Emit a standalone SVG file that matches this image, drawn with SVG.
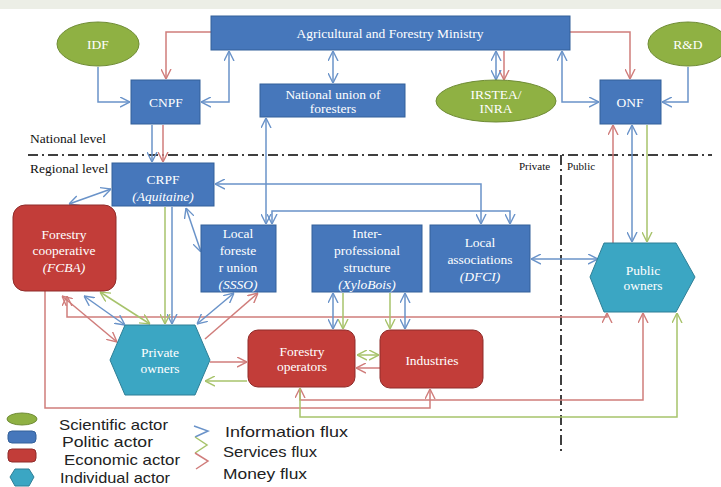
<svg xmlns="http://www.w3.org/2000/svg" width="721" height="487" viewBox="0 0 721 487">
<style>
.blue{fill:#4677bb;stroke:#33609a;stroke-width:1}
.red{fill:#c23d39;stroke:#8f2c2a;stroke-width:1}
.grn{fill:#8fb143;stroke:#6f8c35;stroke-width:1}
.teal{fill:#3ba6c3;stroke:#2f7f96;stroke-width:1}
.t{font-family:"Liberation Serif","DejaVu Serif",serif;font-size:13.5px;fill:#fff;text-anchor:middle}
.i{font-style:italic}
.lbl{font-family:"Liberation Serif","DejaVu Serif",serif;font-size:13.5px;fill:#111}
.sm{font-size:11px}
.leg{font-family:"Liberation Sans","DejaVu Sans",sans-serif;font-size:15px;fill:#222}
.fb{fill:none;stroke:#6a93c9;stroke-width:1.5}
.fg{fill:none;stroke:#a7c36b;stroke-width:1.5}
.fr{fill:none;stroke:#d07d7b;stroke-width:1.5}
.b1{marker-end:url(#mb)}
.b2{marker-start:url(#mb);marker-end:url(#mb)}
.g1{marker-end:url(#mg)}
.g2{marker-start:url(#mg);marker-end:url(#mg)}
.r1{marker-end:url(#mr)}
.r2{marker-start:url(#mr);marker-end:url(#mr)}
.dd{fill:none;stroke:#000;stroke-width:1.5;stroke-dasharray:10,4,2,4}
</style>
<defs>
<marker id="mb" viewBox="0 0 10 10" refX="10" refY="5" markerWidth="10" markerHeight="11" markerUnits="userSpaceOnUse" orient="auto-start-reverse"><path d="M0,0 L10,5 L0,10" fill="none" stroke="#6a93c9" stroke-width="1.4"/></marker>
<marker id="mg" viewBox="0 0 10 10" refX="10" refY="5" markerWidth="10" markerHeight="11" markerUnits="userSpaceOnUse" orient="auto-start-reverse"><path d="M0,0 L10,5 L0,10" fill="none" stroke="#a7c36b" stroke-width="1.4"/></marker>
<marker id="mr" viewBox="0 0 10 10" refX="10" refY="5" markerWidth="10" markerHeight="11" markerUnits="userSpaceOnUse" orient="auto-start-reverse"><path d="M0,0 L10,5 L0,10" fill="none" stroke="#d07d7b" stroke-width="1.4"/></marker>
</defs>
<rect x="0" y="0" width="721" height="487" fill="#fff"/>
<rect x="0" y="0" width="721" height="9" fill="#eceee6"/>

<g id="levels">
<path class="dd" d="M28,155 H712"/>
<path class="dd" d="M561,155 V455"/>
<text class="lbl" x="30" y="143">National level</text>
<text class="lbl" x="30" y="173">Regional level</text>
<text class="lbl sm" x="519" y="170">Private</text>
<text class="lbl sm" x="567" y="170">Public</text>
</g>

<g id="connectors">
<path class="fr r1" d="M211,32 H166 V79"/>
<path class="fr r1" d="M570,32 H630 V79"/>
<path class="fr r1" d="M504,51 V80"/>
<path class="fr r1" d="M163,125 V162"/>
<path class="fr r1" d="M613,243 V125"/>
<path class="fr r2" d="M67,296 V317 H607 V313"/>
<path class="fr r2" d="M62,296 L117,342"/>
<path class="fr r1" d="M45,291 V408 H430 V389"/>
<path class="fr r2" d="M643,313 V400 H300 V388"/>
<path class="fr r1" d="M205,339 L258,293"/>
<path class="fr r1" d="M210,362 H247"/>
<path class="fr r1" d="M380,368 H356"/>
<path class="fb b2" d="M201,102 H229 V51"/>
<path class="fb b1" d="M98,67 V102 H130"/>
<path class="fb b2" d="M333,51 V83"/>
<path class="fb b2" d="M496,51 V80"/>
<path class="fb b2" d="M599,102 H562 V51"/>
<path class="fb b1" d="M688,67 V102 H662"/>
<path class="fb b1" d="M152,125 V162"/>
<path class="fb b2" d="M266,118 V224"/>
<path class="fb b2" d="M215,184 H481 V224"/>
<path class="fb b2" d="M272,224 V211 H510 V224"/>
<path class="fb b2" d="M186,208 L201,252"/>
<path class="fb b2" d="M69,204 L111,189"/>
<path class="fb b1" d="M172,207 V324"/>
<path class="fb b2" d="M84,296 L125,325"/>
<path class="fb b2" d="M197,324 L234,293"/>
<path class="fb b2" d="M333,293 V329"/>
<path class="fb b2" d="M405,293 V329"/>
<path class="fb b2" d="M531,259 H598"/>
<path class="fb b2" d="M632,125 V242"/>
<path class="fg g1" d="M165,207 V324"/>
<path class="fg g2" d="M100,292 L150,324"/>
<path class="fg g1" d="M247,381 H205"/>
<path class="fg g2" d="M357,355 H379"/>
<path class="fg g1" d="M300,388 V417 H677 V313"/>
<path class="fg g1" d="M647,125 V242"/>
<path class="fg g1" d="M343,293 V329"/>
<path class="fg g1" d="M390,293 V329"/>
</g>

<g id="ministry"><rect class="blue" x="211" y="16" width="359" height="34"/><text class="t" x="390" y="38">Agricultural and Forestry Ministry</text></g>
<g id="idf"><ellipse class="grn" cx="98" cy="44" rx="41" ry="22"/><text class="t" x="98" y="49">IDF</text></g>
<g id="rd"><ellipse class="grn" cx="688" cy="44" rx="40" ry="22"/><text class="t" x="688" y="49">R&amp;D</text></g>
<g id="cnpf"><rect class="blue" x="131" y="80" width="69" height="44"/><text class="t" x="166" y="107">CNPF</text></g>
<g id="union"><rect class="blue" x="260" y="84" width="145" height="33"/><text class="t" x="333" y="99">National union of</text><text class="t" x="333" y="113">foresters</text></g>
<g id="irstea"><ellipse class="grn" cx="496" cy="101" rx="60" ry="21"/><text class="t" x="496" y="99">IRSTEA/</text><text class="t" x="496" y="113">INRA</text></g>
<g id="onf"><rect class="blue" x="600" y="80" width="61" height="44"/><text class="t" x="630" y="107">ONF</text></g>
<g id="crpf"><rect class="blue" x="112" y="163" width="102" height="43"/><text class="t" x="163" y="184">CRPF</text><text class="t i" x="163" y="201">(Aquitaine)</text></g>
<g id="coop"><rect class="red" x="13" y="205" width="103" height="86" rx="12"/><text class="t" x="64" y="239">Forestry</text><text class="t" x="64" y="255">cooperative</text><text class="t i" x="64" y="272">(FCBA)</text></g>
<g id="lfu"><rect class="blue" x="201" y="225" width="75" height="67"/><text class="t" x="238" y="238">Local</text><text class="t" x="238" y="255">foreste</text><text class="t" x="238" y="272">r union</text><text class="t i" x="238" y="289">(SSSO)</text></g>
<g id="inter"><rect class="blue" x="312" y="225" width="110" height="67"/><text class="t" x="367" y="238">Inter-</text><text class="t" x="367" y="255">professional</text><text class="t" x="367" y="272">structure</text><text class="t i" x="367" y="289">(XyloBois)</text></g>
<g id="assoc"><rect class="blue" x="430" y="225" width="100" height="67"/><text class="t" x="480" y="247">Local</text><text class="t" x="480" y="264">associations</text><text class="t i" x="480" y="281">(DFCI)</text></g>
<g id="public"><polygon class="teal" points="590,277 604,243 676,243 695,277 676,312 604,312"/><text class="t" x="643" y="275">Public</text><text class="t" x="643" y="290">owners</text></g>
<g id="private"><polygon class="teal" points="110,360 125,325 195,325 210,360 195,395 125,395"/><text class="t" x="160" y="357">Private</text><text class="t" x="160" y="373">owners</text></g>
<g id="operators"><rect class="red" x="248" y="330" width="107" height="57" rx="10"/><text class="t" x="302" y="356">Forestry</text><text class="t" x="302" y="371">operators</text></g>
<g id="industries"><rect class="red" x="380" y="330" width="103" height="58" rx="10"/><text class="t" x="432" y="365">Industries</text></g>

<g id="legend">
<ellipse class="grn" cx="22" cy="419" rx="15" ry="6"/>
<rect class="blue" x="8" y="431" width="28" height="12" rx="4"/>
<rect class="red" x="8" y="449" width="28" height="13" rx="4"/>
<polygon class="teal" points="10,477 15,469 29,469 34,477 29,486 15,486"/>
<text class="leg" x="59" y="430" textLength="109" lengthAdjust="spacingAndGlyphs">Scientific actor</text>
<text class="leg" x="62" y="447" textLength="91" lengthAdjust="spacingAndGlyphs">Politic actor</text>
<text class="leg" x="64" y="465" textLength="116" lengthAdjust="spacingAndGlyphs">Economic actor</text>
<text class="leg" x="60" y="483" textLength="110" lengthAdjust="spacingAndGlyphs">Individual actor</text>
<polyline fill="none" stroke="#6a93c9" stroke-width="1.5" points="194,426 208,431 195,437"/>
<polyline fill="none" stroke="#a7c36b" stroke-width="1.5" points="195,437 207,445 195,453"/>
<polyline fill="none" stroke="#d07d7b" stroke-width="1.5" points="195,453 208,461 196,469"/>
<text class="leg" x="225" y="437" textLength="123" lengthAdjust="spacingAndGlyphs">Information flux</text>
<text class="leg" x="223" y="457" textLength="94" lengthAdjust="spacingAndGlyphs">Services flux</text>
<text class="leg" x="223" y="479" textLength="84" lengthAdjust="spacingAndGlyphs">Money flux</text>
</g>
</svg>
